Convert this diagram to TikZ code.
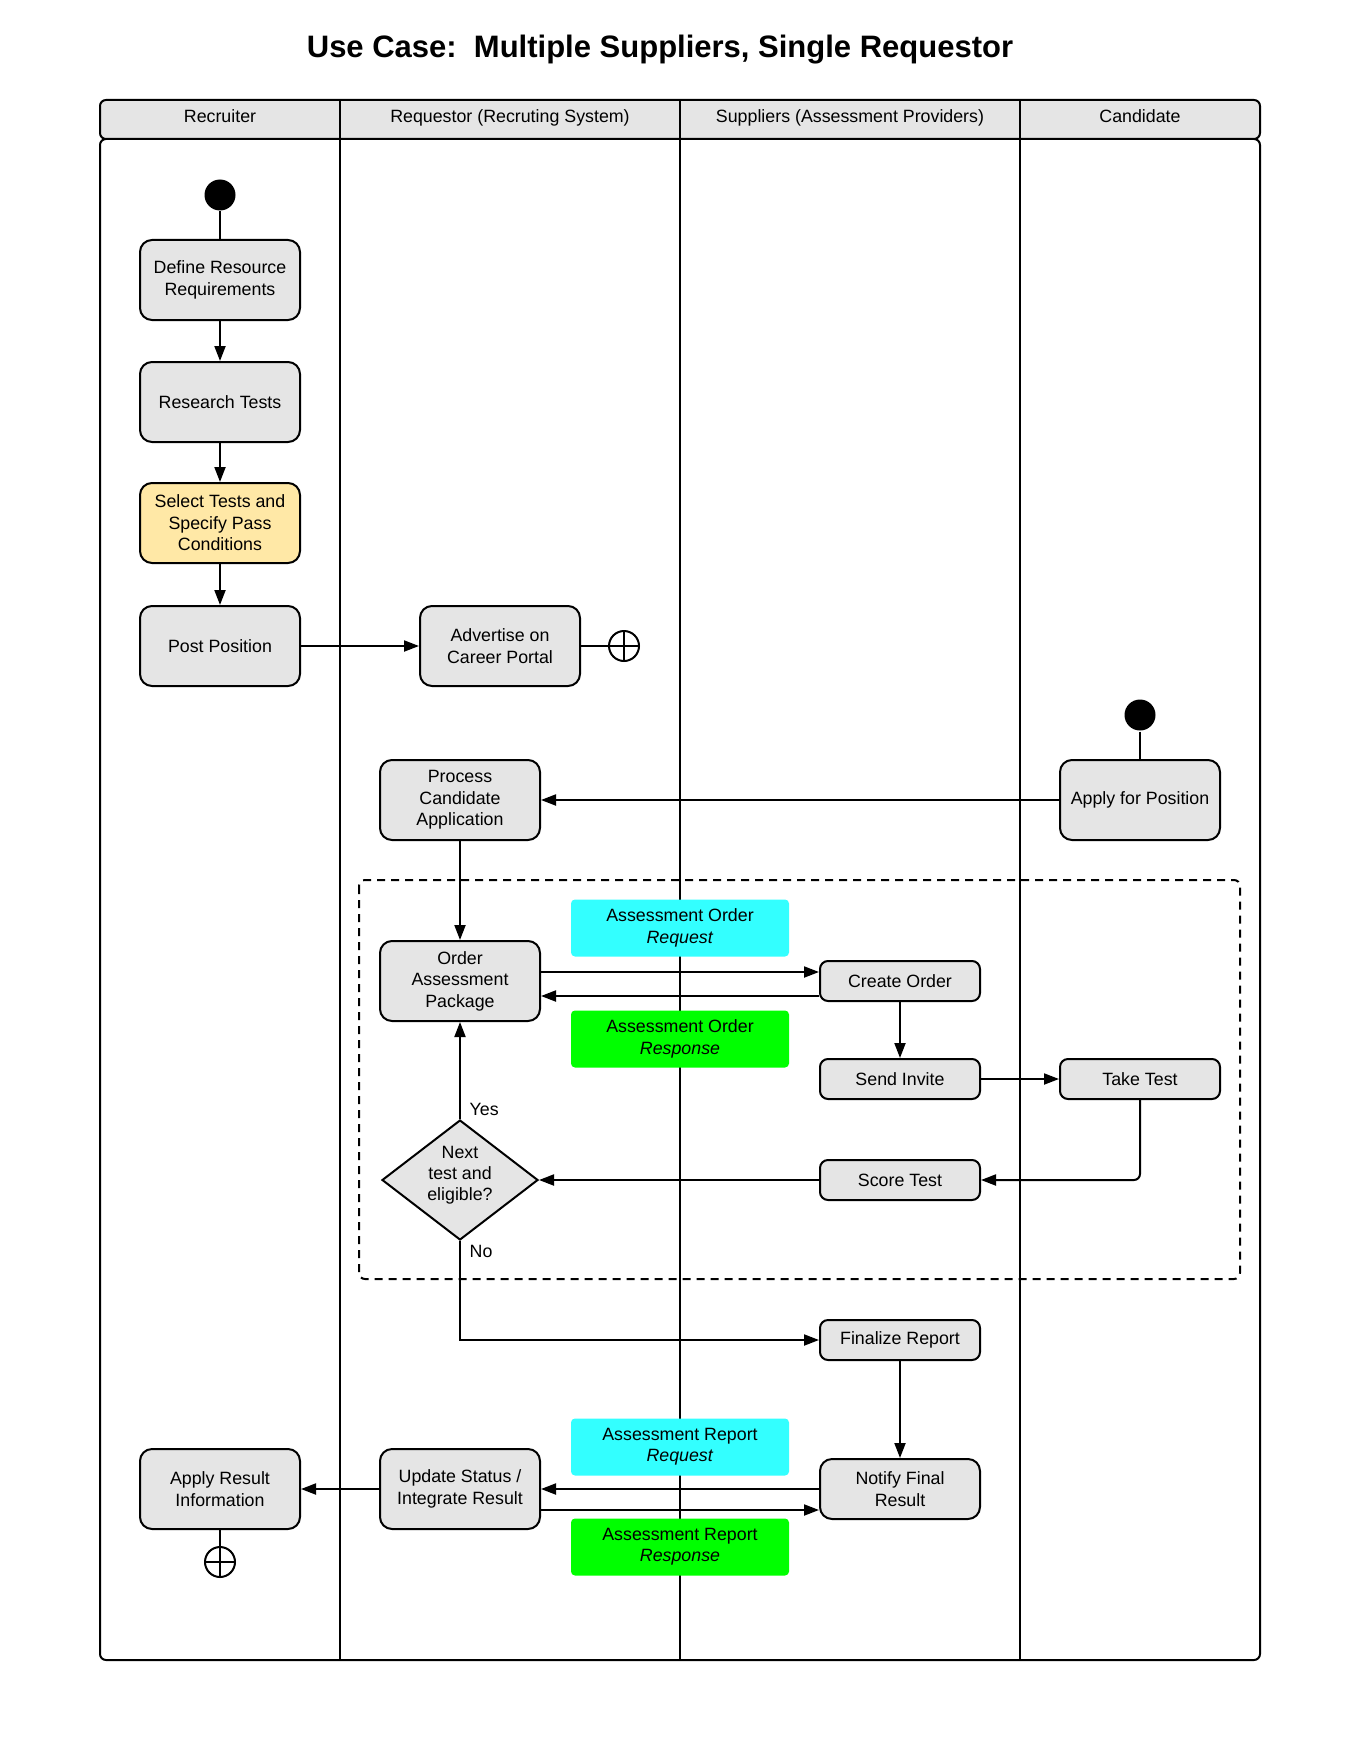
\documentclass[tikz,border=0pt]{standalone}
\usepackage{fontspec}
\setmainfont{Liberation Sans}
\usetikzlibrary{arrows.meta,shapes.geometric,positioning}
\definecolor{reqcyan}{HTML}{33FFFF}
\definecolor{respgreen}{HTML}{00FF00}
\definecolor{selyellow}{HTML}{FFE8A6}
\tikzset{
	activity/.style={draw,rounded corners=6pt,fill=black!10,minimum width=80pt,minimum height=40pt,align=center,inner sep=2pt},
	task/.style={activity,minimum height=20pt,rounded corners=4pt},
	request/.style={fill=reqcyan,rounded corners=2pt,minimum width=109pt,minimum height=28.5pt,align=center,inner sep=1pt},
	response/.style={request,fill=respgreen},
	initial/.style={circle,fill=black,minimum size=15.5pt,inner sep=0pt},
	final/.style={circle,draw,minimum size=15pt,inner sep=0pt,
		path picture={\draw (path picture bounding box.north) -- (path picture bounding box.south)
			(path picture bounding box.west) -- (path picture bounding box.east);}},
	decision/.style={diamond,draw,fill=black!10,aspect=1.3,minimum width=78pt,minimum height=60pt,inner sep=0pt,align=center},
	flow/.style={->}
}
\begin{document}
\begin{tikzpicture}[x=0.5pt,y=-0.5pt,line width=1pt,>={Triangle[length=7.5pt,width=5.5pt]},
	font=\fontsize{8.9}{10.7}\selectfont]
			\useasboundingbox (0,0) rectangle (1360,1760);
			\node[font=\fontsize{15.5}{18}\selectfont\bfseries] (title) at (660,50) {Use Case:\ \ Multiple Suppliers, Single Requestor};
			\draw[rounded corners=3pt] (100,139) rectangle (1260,1660);
			\draw[rounded corners=3pt,fill=black!10] (100,100) rectangle (1260,139);
			\foreach \x in {340,680,1020}
			\draw (\x,100) -- (\x,1660);
			\foreach \x/\lanetext in {220/Recruiter,510/Requestor (Recruting System),850/Suppliers (Assessment Providers),1140/Candidate}
			\node[anchor=base] (lane\x) at (\x,123) {\lanetext};
			\draw[dashed,dash pattern=on 4pt off 3pt,rounded corners=3pt] (359,880) rectangle (1240,1279);
			% recruiter lane
			\node[initial] (recStart) at (220,195) {};
			\node[activity] (define) at (220,280) {Define Resource\\Requirements};
			\node[activity] (research) at (220,402) {Research Tests};
			\node[activity,fill=selyellow] (select) at (220,523) {Select Tests and\\Specify Pass\\Conditions};
			\node[activity] (post) at (220,646) {Post Position};
			\node[activity] (result) at (220,1489) {Apply Result\\Information};
			\node[final] (resEnd) at (220,1562) {};
			% requestor lane
			\node[activity] (advertise) at (500,646) {Advertise on\\Career Portal};
			\node[final] (advEnd) at (624,646) {};
			\node[activity] (process) at (460,800) {Process\\Candidate\\Application};
			\node[activity] (order) at (460,981) {Order\\Assessment\\Package};
			\node[decision] (next) at (460,1180) {Next\\test and\\eligible?\\[-4pt]};
			\node[activity] (update) at (460,1489) {Update Status /\\Integrate Result};
			% messages
			\node[request] (orderReq) at (680,928) {Assessment Order\\\textit{Request}};
			\node[response] (orderResp) at (680,1039) {Assessment Order\\\textit{Response}};
			\node[request] (reportReq) at (680,1447) {Assessment Report\\\textit{Request}};
			\node[response] (reportResp) at (680,1547) {Assessment Report\\\textit{Response}};
			% supplier lane
			\node[task] (create) at (900,981) {Create Order};
			\node[task] (invite) at (900,1079) {Send Invite};
			\node[task] (score) at (900,1180) {Score Test};
			\node[task] (finalize) at (900,1340) {Finalize Report};
			\node[activity,minimum height=30pt] (notify) at (900,1489) {Notify Final\\Result};
			% candidate lane
			\node[initial] (candStart) at (1140,715) {};
			\node[activity] (apply) at (1140,800) {Apply for Position};
			\node[task] (take) at (1140,1079) {Take Test};
			\node[anchor=west] (yes) at (462,1109) {Yes};
			\node[anchor=west] (no) at (462,1251) {No};
			% flows
			\draw (recStart) -- (define);
			\draw[flow] (define) -- (research);
			\draw[flow] (research) -- (select);
			\draw[flow] (select) -- (post);
			\draw[flow] (post) -- (advertise);
			\draw (advertise) -- (advEnd);
			\draw (candStart) -- (apply);
			\draw[flow] (apply) -- (process);
			\draw[flow] (process) -- (order);
			\draw[flow] ([yshift=4.5pt]order.east) -- ([yshift=4.5pt]order.east -| create.west);
			\draw[flow] ([yshift=-7.5pt]create.west) -- ([yshift=-7.5pt]create.west -| order.east);
			\draw[flow] (create) -- (invite);
			\draw[flow] (invite) -- (take);
			\draw[flow,rounded corners=3pt] (take) |- (score);
			\draw[flow] (score) -- (next);
			\draw[flow] (next) -- (order);
			\draw[flow] (next) |- (finalize);
			\draw[flow] (finalize) -- (notify);
			\draw[flow] (notify) -- (update);
			\draw[flow] ([yshift=-10.5pt]update.east) -- ([yshift=-10.5pt]update.east -| notify.west);
			\draw[flow] (update) -- (result);
			\draw (result) -- (resEnd);
\end{tikzpicture}
\end{document}
